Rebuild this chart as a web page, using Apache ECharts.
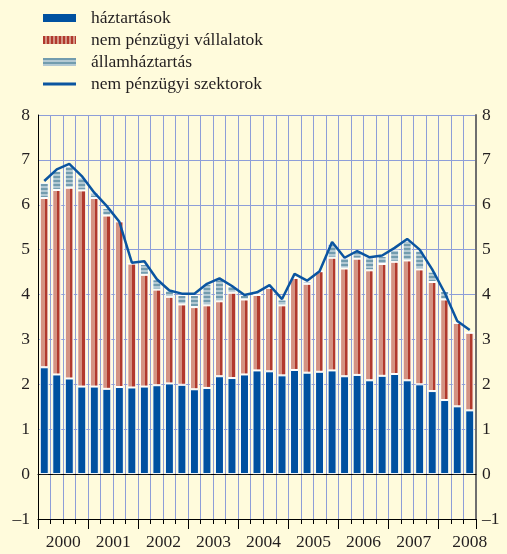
<!DOCTYPE html>
<html>
<head>
<meta charset="utf-8">
<script src="https://cdn.jsdelivr.net/npm/echarts@6/dist/echarts.min.js"></script>
<style>
  html, body { margin: 0; padding: 0; background: #fffbdc; }
  #main { width: 507px; height: 554px; }
</style>
</head>
<body>
<div id="main"></div>
<script>
// negyedéves adatok 2000 Q1 - 2008 Q3
var years = ["2000", "2001", "2002", "2003", "2004", "2005", "2006", "2007", "2008"];
var quarters = [];
years.forEach(function (y) {
  ["Q1", "Q2", "Q3", "Q4"].forEach(function (q) {
    if (quarters.length < 35) quarters.push(y + " " + q);
  });
});

var haztartas = [2.38, 2.22, 2.13, 1.95, 1.95, 1.90, 1.94, 1.93, 1.95, 1.98, 2.02, 1.99,
  1.89, 1.92, 2.18, 2.14, 2.22, 2.31, 2.29, 2.20, 2.32, 2.26, 2.28, 2.31,
  2.18, 2.21, 2.09, 2.19, 2.23, 2.09, 2.00, 1.85, 1.65, 1.51, 1.42];
var vallalat = [3.77, 4.11, 4.25, 4.37, 4.20, 3.86, 3.69, 2.76, 2.49, 2.13, 1.93, 1.79,
  1.83, 1.84, 1.67, 1.90, 1.67, 1.68, 1.86, 1.56, 2.05, 1.98, 2.24, 2.51,
  2.40, 2.59, 2.45, 2.49, 2.50, 2.67, 2.56, 2.43, 2.24, 1.86, 1.73];
var allam = [0.34, 0.43, 0.48, 0.29, 0.12, 0.17, 0, 0, 0.24, 0.23, 0.14, 0.21,
  0.27, 0.48, 0.49, 0.15, 0.10, 0.05, 0, 0.13, 0, 0.06, 0, 0.31,
  0.24, 0.18, 0.29, 0.18, 0.27, 0.44, 0.42, 0.23, 0.19, 0, 0];
var szektor = [6.53, 6.79, 6.91, 6.64, 6.27, 5.97, 5.62, 4.71, 4.74, 4.34, 4.09, 4.02,
  4.02, 4.24, 4.36, 4.19, 3.99, 4.05, 4.21, 3.90, 4.46, 4.31, 4.52, 5.17,
  4.82, 4.97, 4.83, 4.87, 5.04, 5.24, 5.00, 4.56, 4.04, 3.41, 3.21];

// minták
function stripes(w, h, bg, fg, vertical) {
  var c = document.createElement("canvas");
  c.width = w; c.height = h;
  var ctx = c.getContext("2d");
  ctx.fillStyle = bg; ctx.fillRect(0, 0, w, h);
  ctx.fillStyle = fg;
  if (vertical) ctx.fillRect(0, 0, Math.ceil(w / 2), h);
  else ctx.fillRect(0, 0, w, Math.ceil(h / 2));
  return c;
}
var allamPattern = { image: stripes(4, 4, "#b3c9d3", "#729cae", false), repeat: "repeat" };
var vallPattern = { image: stripes(4, 4, "#d39584", "#b1392d", true), repeat: "repeat" };
var vallGradient = {
  type: "linear", x: 0, y: 0, x2: 1, y2: 0,
  colorStops: [
    { offset: 0, color: "#d49383" }, { offset: 0.55, color: "#d49383" },
    { offset: 0.55, color: "#b1392d" }, { offset: 0.8, color: "#b1392d" },
    { offset: 0.8, color: "#d49383" }, { offset: 1, color: "#d49383" }
  ]
};

var font = "'Liberation Serif', 'DejaVu Serif', serif";
var gridColor = "#8e9ed8";

var option = {
  backgroundColor: "#fffbdc",
  animation: false,
  textStyle: { fontFamily: font },
  legend: {
    orient: "vertical",
    left: 38,
    top: 4,
    itemWidth: 33,
    itemHeight: 8,
    itemGap: 4,
    textStyle: { fontFamily: font, fontSize: 17.5, lineHeight: 17.5, color: "#231f20", padding: [0, 0, 0, 10] },
    data: [
      { name: "háztartások", icon: "rect", itemStyle: { color: "#0051a0", borderWidth: 0 } },
      { name: "nem pénzügyi vállalatok", icon: "rect", itemStyle: { color: vallPattern, borderWidth: 0 } },
      { name: "államháztartás", icon: "rect", itemStyle: { color: allamPattern, borderWidth: 0 } },
      { name: "nem pénzügyi szektorok", icon: "path://M0,0 L11,0 L11,1 L0,1 Z", itemStyle: { color: "#0b55a0" } }
    ]
  },
  grid: { left: 38, right: 31, top: 115, bottom: 35 },
  xAxis: [
    {
      type: "category",
      data: quarters,
      axisLine: { onZero: true, lineStyle: { color: "#000", width: 1 } },
      axisTick: { show: false },
      axisLabel: { show: false },
      splitLine: { show: true, interval: 0, lineStyle: { color: gridColor, width: 1 } }
    },
    {
      type: "category",
      data: quarters,
      position: "bottom",
      axisLine: { onZero: false, lineStyle: { color: "#000", width: 1 } },
      axisTick: { show: true, interval: 0, length: 5, lineStyle: { color: "#000" } },
      axisLabel: {
        show: true,
        interval: function (i) { return (i % 4 === 1 && i < 32) || i === 34; },
        formatter: function (v, i) {
          var y = v.slice(0, 4);
          return i === 34 ? "{b|" + y + "}" : "{a|" + y + "}";
        },
        margin: 14,
        rich: {
          a: { fontFamily: font, fontSize: 17.5, color: "#231f20", padding: [0, 0, 0, 13] },
          b: { fontFamily: font, fontSize: 17.5, color: "#231f20", padding: [0, 0, 0, 0] }
        }
      },
      splitLine: { show: false }
    },
    {
      type: "category",
      data: quarters,
      position: "bottom",
      axisLine: { show: false, onZero: false },
      axisTick: { show: true, interval: function (i) { return i % 4 === 0; }, length: 10, lineStyle: { color: "#000" } },
      axisLabel: { show: false },
      splitLine: { show: false }
    }
  ],
  yAxis: [
    {
      type: "value",
      min: -1, max: 8, interval: 1,
      axisLine: { show: true, lineStyle: { color: "#000" } },
      axisTick: { show: false },
      axisLabel: {
        fontFamily: font, fontSize: 17.5, color: "#231f20", margin: 8,
        formatter: function (v) { return v < 0 ? "\u2013" + Math.abs(v) : v; }
      },
      splitLine: { show: true, lineStyle: { color: gridColor, width: 1 } }
    },
    {
      type: "value",
      position: "right",
      min: -1, max: 8, interval: 1,
      axisLine: { show: true, lineStyle: { color: "#6f6f6f", width: 2 } },
      axisTick: { show: false },
      axisLabel: {
        fontFamily: font, fontSize: 17.5, color: "#231f20", margin: 6,
        formatter: function (v) { return v < 0 ? "\u2013" + Math.abs(v) : v; }
      },
      splitLine: { show: false }
    }
  ],
  series: [
    {
      name: "háztartások", type: "bar", stack: "a", data: haztartas,
      barWidth: "72%",
      itemStyle: { color: "#0051a0", borderColor: "#ffffff", borderWidth: 1 }
    },
    {
      name: "nem pénzügyi vállalatok", type: "bar", stack: "a", data: vallalat,
      itemStyle: { color: vallGradient, borderColor: "#ffffff", borderWidth: 1 }
    },
    {
      name: "államháztartás", type: "bar", stack: "a", data: allam,
      itemStyle: { color: allamPattern, borderColor: "#ffffff", borderWidth: 1 }
    },
    {
      name: "nem pénzügyi szektorok", type: "line", data: szektor,
      symbol: "none", z: 5,
      lineStyle: { color: "#0b55a0", width: 2.5 },
      itemStyle: { color: "#0b55a0" }
    }
  ]
};

var myChart = echarts.init(document.getElementById("main"));
myChart.setOption(option);
</script>
</body>
</html>
